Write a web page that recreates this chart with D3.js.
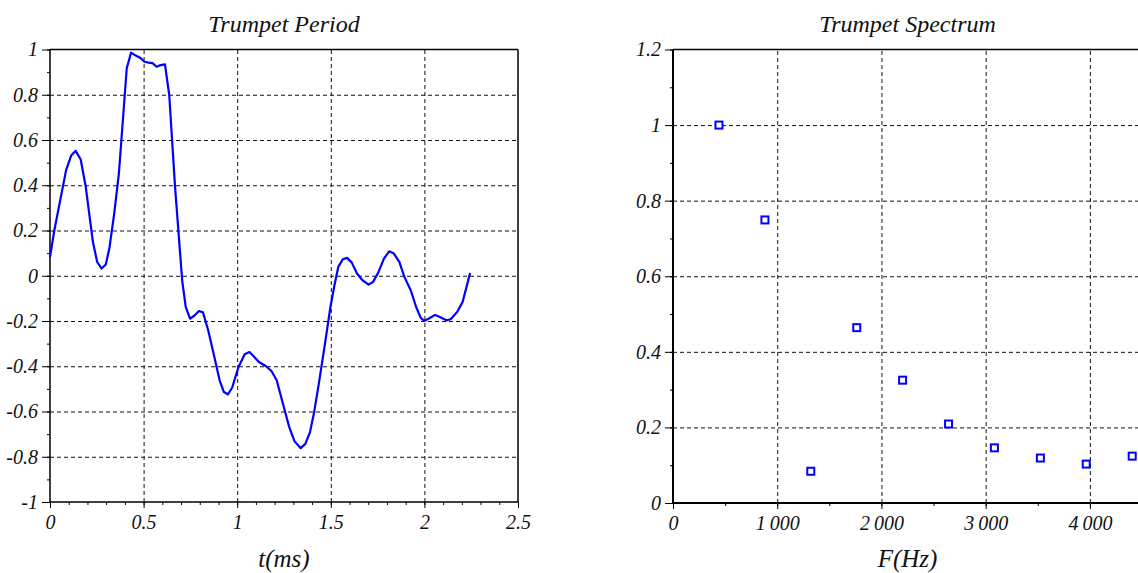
<!DOCTYPE html>
<html lang="en">
<head>
<meta charset="UTF-8">
<title>Trumpet</title>
<script src="https://cdn.jsdelivr.net/npm/d3@7"></script>
<style>
    body { margin: 0; background: #fff; }
    svg text { font-family: "Liberation Serif", "Times New Roman", serif; font-style: italic; fill: #111; }
    .grid line { stroke: #111; stroke-dasharray: 4,3; }
    .grid .domain { display: none; }
    .minor .domain { display: none; }
    .minor line, .major line { stroke: #000; }
    .major .domain { display: none; }
</style>
</head>
<body>
<svg id="chart" width="1138" height="573"></svg>
<script>
// period (ms) and normalised amplitude
const periodT = [0, 0.023, 0.086, 0.114, 0.137, 0.164, 0.191, 0.229, 0.252, 0.275, 0.298, 0.317, 0.343, 0.368,
    0.41, 0.433, 0.458, 0.481, 0.505, 0.527, 0.548, 0.569, 0.591, 0.614, 0.637, 0.668, 0.706, 0.725, 0.748,
    0.773, 0.796, 0.817, 0.845, 0.878, 0.906, 0.929, 0.95, 0.973, 1.007, 1.04, 1.065, 1.088, 1.116, 1.154,
    1.183, 1.211, 1.249, 1.278, 1.306, 1.339, 1.364, 1.389, 1.411, 1.436, 1.469, 1.498, 1.52, 1.54, 1.564,
    1.587, 1.612, 1.64, 1.669, 1.702, 1.726, 1.755, 1.784, 1.812, 1.837, 1.866, 1.893, 1.927, 1.956, 1.98,
    1.999, 2.022, 2.057, 2.083, 2.117, 2.14, 2.175, 2.204, 2.232, 2.244]
const periodV = [0.083, 0.2, 0.467, 0.533, 0.552, 0.514, 0.393, 0.15, 0.061, 0.032, 0.05, 0.12, 0.275, 0.452,
    0.917, 0.986, 0.973, 0.964, 0.946, 0.942, 0.94, 0.924, 0.931, 0.934, 0.799, 0.393, -0.02, -0.138, -0.19,
    -0.175, -0.156, -0.162, -0.241, -0.359, -0.462, -0.514, -0.524, -0.495, -0.403, -0.347, -0.337, -0.356, -0.381, -0.4,
    -0.421, -0.462, -0.58, -0.669, -0.731, -0.762, -0.743, -0.691, -0.603, -0.477, -0.3, -0.138, -0.04, 0.039, 0.073,
    0.079, 0.058, 0.01, -0.02, -0.039, -0.027, 0.017, 0.076, 0.108, 0.098, 0.061, -0.005, -0.064, -0.138, -0.185,
    -0.2, -0.19, -0.173, -0.182, -0.197, -0.192, -0.16, -0.116, -0.027, 0.012]

// harmonics (Hz) and relative amplitude
const specF = [441, 882, 1322, 1763, 2203, 2644, 3084, 3525, 3965, 4406]
const specA = [1.0, 0.749, 0.084, 0.464, 0.325, 0.209, 0.146, 0.119, 0.103, 0.124]

const periodXTicks = [0, 0.5, 1, 1.5, 2, 2.5]
const periodYTicks = [-1, -0.8, -0.6, -0.4, -0.2, 0, 0.2, 0.4, 0.6, 0.8, 1]
const specXTicks = [0, 1000, 2000, 3000, 4000]
const specYTicks = [0, 0.2, 0.4, 0.6, 0.8, 1, 1.2]

const svg = d3.select("#chart")
const fr = d3.formatLocale({decimal: ".", thousands: "\u2009", grouping: [3], currency: ["", ""]})
const numFmt = d => String(+d.toFixed(2))

function styleLabels(sel) {
    sel.selectAll("text")
        .style("font-family", '"Liberation Serif", "Times New Roman", serif')
        .style("font-style", "italic")
        .style("font-size", "20px")
        .attr("fill", "#111")
}

function panel(o) {
    const x = d3.scaleLinear().domain(o.xDomain).range(o.xRange)
    const y = d3.scaleLinear().domain(o.yDomain).range(o.yRange)
    const g = svg.append("g")
    const [x0, x1] = o.xRange, [y0, y1] = o.yRange

    // grid
    g.append("g").attr("class", "grid").attr("transform", `translate(0,${y0})`)
        .call(d3.axisBottom(x).tickValues(o.xTicks.filter(d => d > o.xDomain[0] && d < o.xDomain[1]))
            .tickSize(-(y0 - y1)).tickFormat(""))
    g.append("g").attr("class", "grid").attr("transform", `translate(${x0},0)`)
        .call(d3.axisLeft(y).tickValues(o.yTicks.filter(d => d > o.yDomain[0] && d < o.yDomain[1]))
            .tickSize(-(x1 - x0)).tickFormat(""))

    // minor ticks
    g.append("g").attr("class", "minor").attr("transform", `translate(0,${y0})`)
        .call(d3.axisBottom(x).tickValues(d3.range(o.xDomain[0], o.xDomain[1] + 1e-9, o.xMinor)).tickSize(3).tickFormat(""))
    g.append("g").attr("class", "minor").attr("transform", `translate(${x0},0)`)
        .call(d3.axisLeft(y).tickValues(d3.range(o.yDomain[0], o.yDomain[1] + 1e-9, o.yMinor)).tickSize(3).tickFormat(""))

    // major ticks + labels
    const xa = g.append("g").attr("class", "major").attr("transform", `translate(0,${y0})`)
        .call(d3.axisBottom(x).tickValues(o.xTicks).tickSize(6).tickPadding(7).tickFormat(o.xFmt))
    const ya = g.append("g").attr("class", "major").attr("transform", `translate(${x0},0)`)
        .call(d3.axisLeft(y).tickValues(o.yTicks).tickSize(8).tickPadding(4).tickFormat(numFmt))
    styleLabels(xa)
    styleLabels(ya)

    // frame
    g.append("line").attr("x1", x0).attr("x2", x1).attr("y1", y1).attr("y2", y1).attr("stroke", "#000").attr("stroke-width", 1.5)
    g.append("line").attr("x1", x1).attr("x2", x1).attr("y1", y1).attr("y2", y0).attr("stroke", "#000").attr("stroke-width", 1.5)
    g.append("line").attr("x1", x0).attr("x2", x1).attr("y1", y0).attr("y2", y0).attr("stroke", "#000").attr("stroke-width", o.axisW)
    g.append("line").attr("x1", x0).attr("x2", x0).attr("y1", y1).attr("y2", y0).attr("stroke", "#000").attr("stroke-width", o.axisW)

    // titles
    g.append("text").attr("x", (x0 + x1) / 2).attr("y", 32).attr("text-anchor", "middle")
        .attr("font-size", 24).text(o.title)
    g.append("text").attr("x", (x0 + x1) / 2).attr("y", 567).attr("text-anchor", "middle")
        .attr("font-size", 25).text(o.xLabel)

    return {g, x, y}
}

const left = panel({
    xDomain: [0, 2.5], xRange: [50, 518], yDomain: [-1, 1], yRange: [502, 49.5],
    xTicks: periodXTicks, yTicks: periodYTicks, xMinor: 0.1, yMinor: 0.1, axisW: 1.5,
    xFmt: numFmt, title: "Trumpet Period", xLabel: "t(ms)"
})
left.g.append("path")
    .datum(periodT.map((t, i) => [t, periodV[i]]))
    .attr("fill", "none").attr("stroke", "#0000ff").attr("stroke-width", 2.2)
    .attr("stroke-linejoin", "round")
    .attr("d", d3.line().x(d => left.x(d[0])).y(d => left.y(d[1])))

const right = panel({
    xDomain: [0, 4500], xRange: [673, 1142], yDomain: [0, 1.2], yRange: [503, 49.5],
    xTicks: specXTicks, yTicks: specYTicks, xMinor: 500, yMinor: 0.1, axisW: 2,
    xFmt: d => fr.format(",")(d), title: "Trumpet Spectrum", xLabel: "F(Hz)"
})
right.g.selectAll("rect.pt").data(specF).enter().append("rect").attr("class", "pt")
    .attr("x", d => right.x(d) - 3.5).attr("y", (d, i) => right.y(specA[i]) - 3.5)
    .attr("width", 7).attr("height", 7)
    .attr("fill", "#fff").attr("stroke", "#0000ff").attr("stroke-width", 2)
</script>
</body>
</html>
